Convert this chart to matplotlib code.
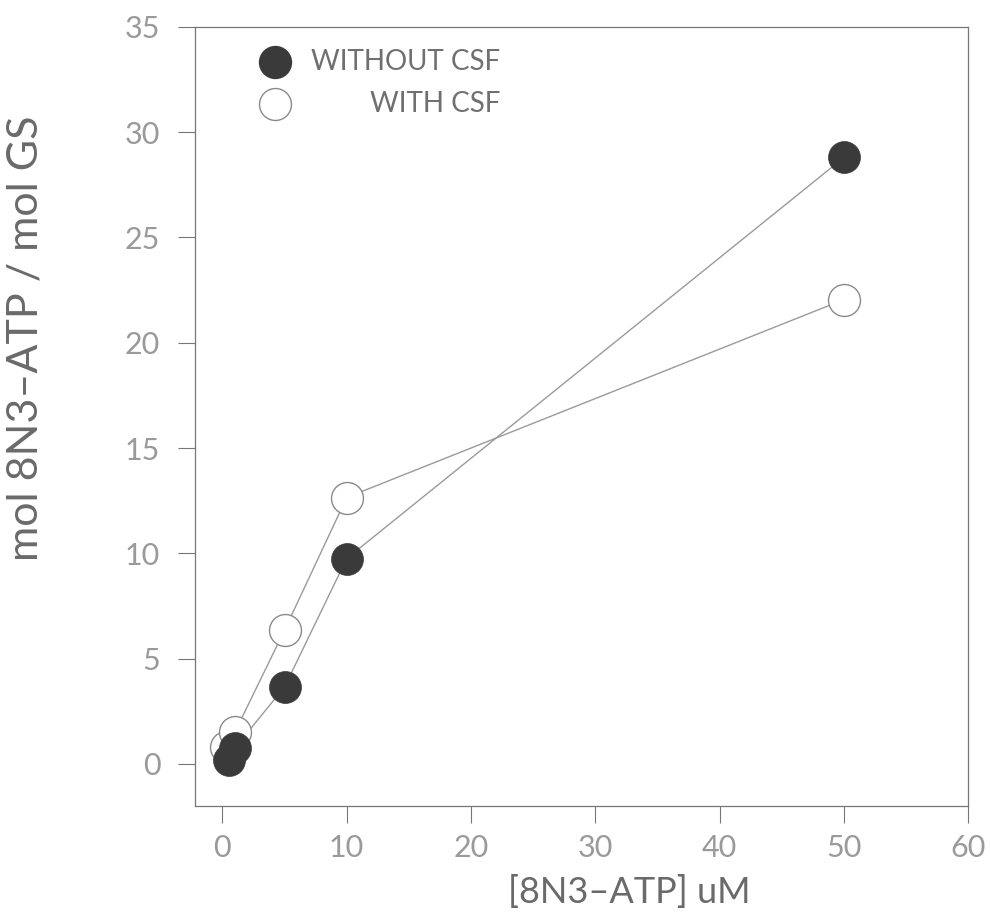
import numpy as np
import matplotlib.pyplot as plt

# photolabelling data
conc_without = [0.5, 1.0, 5.0, 10.0, 50.0]
mol_without = [0.2, 0.75, 3.65, 9.75, 28.8]
conc_with = [0.3, 1.0, 5.0, 10.0, 50.0]
mol_with = [0.8, 1.5, 6.35, 12.65, 22.05]

xticks = [0, 10, 20, 30, 40, 50, 60]
yticks = [0, 5, 10, 15, 20, 25, 30, 35]

plt.rcParams['font.family'] = ['Lato', 'DejaVu Sans']

fig = plt.figure(figsize=(9.9, 9.23), dpi=100)
ax = fig.add_axes([0.197, 0.1268, 0.781, 0.844])

# lines first, then markers so the white faces hide the lines
ax.plot(conc_without, mol_without, '-', color='#9a9a9a', lw=1.0, zorder=1)
ax.plot(conc_with, mol_with, '-', color='#9a9a9a', lw=1.0, zorder=1)
ax.plot(conc_with, mol_with, 'o', ms=23, mfc='white', mec='#8a8a8a', mew=1.0, zorder=2)
ax.plot(conc_without, mol_without, 'o', ms=23, mfc='#3a3a3a', mec='#3a3a3a', mew=0.5, zorder=3)

# hand made legend
ax.plot([0.1035], [0.955], 'o', ms=23, mfc='#3a3a3a', mec='#3a3a3a', transform=ax.transAxes, clip_on=False)
ax.plot([0.1035], [0.901], 'o', ms=23, mfc='white', mec='#8a8a8a', transform=ax.transAxes, clip_on=False)
ax.text(0.395, 0.955, 'WITHOUT CSF', transform=ax.transAxes, ha='right', va='center',
        fontsize=20, color='#707070')
ax.text(0.395, 0.901, 'WITH CSF', transform=ax.transAxes, ha='right', va='center',
        fontsize=20, color='#707070')

ax.set_xlim(-2.2, 60)
ax.set_ylim(-2.0, 35)
ax.set_xticks(xticks)
ax.set_yticks(yticks)
ax.tick_params(direction='out', length=12, width=0.8, color='#777777',
               labelsize=22, labelcolor='#9a9a9a')
ax.tick_params(axis='y', pad=13)
ax.tick_params(axis='x', pad=8)
for s in ax.spines.values():
    s.set_color('#777777')
    s.set_linewidth(0.9)

ax.set_xlabel('[8N3\u2013ATP] uM', fontsize=26, color='#6a6a6a')
ax.set_ylabel('mol 8N3\u2013ATP / mol GS', fontsize=31, color='#6a6a6a')
ax.xaxis.set_label_coords(0.561, -0.088)
ax.yaxis.set_label_coords(-0.195, 0.60)

plt.savefig('out.png', dpi=100)
